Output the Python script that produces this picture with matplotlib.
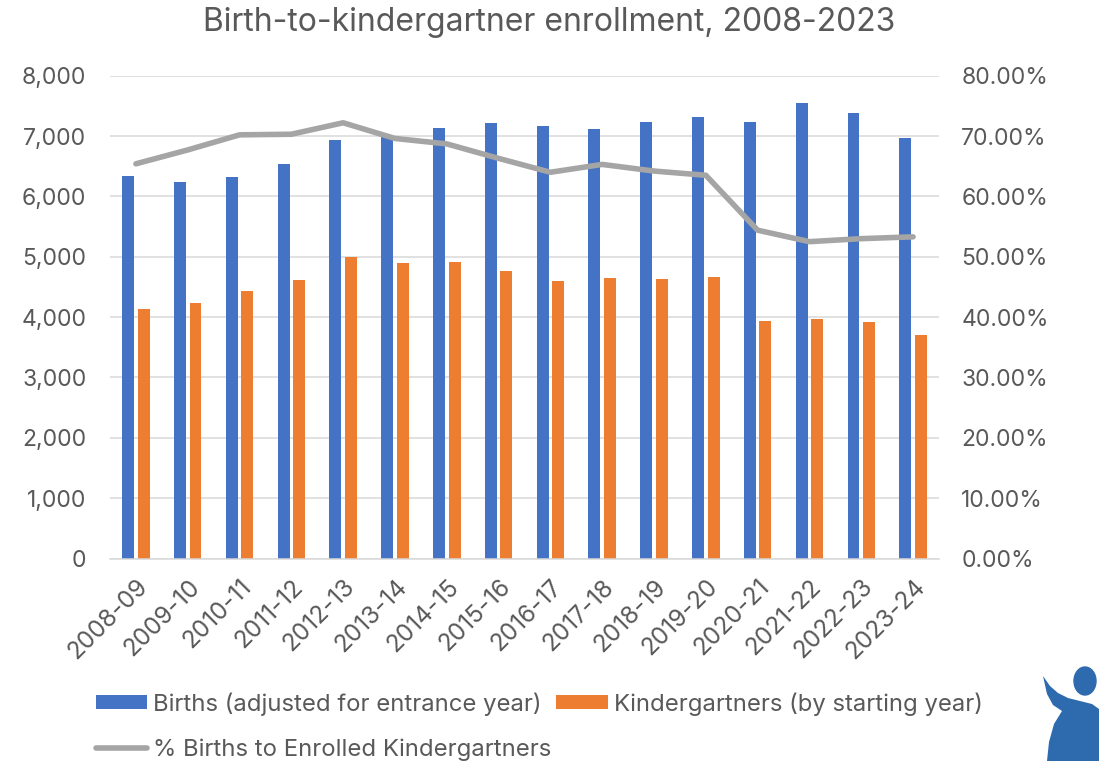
import numpy as np
import matplotlib
matplotlib.use("Agg")
from matplotlib import pyplot as plt
from matplotlib.patches import Ellipse, PathPatch
from matplotlib.path import Path
from matplotlib.ticker import FuncFormatter, MultipleLocator

plt.rcParams["font.family"] = ["Inter", "DejaVu Sans"]

years = [
    "2008-09", "2009-10", "2010-11", "2011-12", "2012-13", "2013-14",
    "2014-15", "2015-16", "2016-17", "2017-18", "2018-19", "2019-20",
    "2020-21", "2021-22", "2022-23", "2023-24",
]
births = [6330, 6240, 6320, 6540, 6930, 7010, 7130, 7210,
          7160, 7120, 7230, 7320, 7240, 7550, 7390, 6960]
kinders = [4140, 4230, 4440, 4610, 5000, 4890, 4910, 4770,
           4590, 4650, 4630, 4660, 3930, 3970, 3920, 3710]
pct = [65.4, 67.7, 70.2, 70.3, 72.2, 69.6, 68.7, 66.3,
       64.0, 65.3, 64.2, 63.5, 54.4, 52.5, 53.0, 53.3]

BLUE = "#4472C4"
ORANGE = "#ED7D31"
GREY = "#A5A5A5"
TXT = "#595959"
GRID = "#D9D9D9"

W, H = 1099, 761
fig = plt.figure(figsize=(W / 100, H / 100), dpi=100)
ax = fig.add_axes([110 / W, 1 - 558.5 / H, (939 - 110) / W, (558.5 - 75.7) / H])
ax2 = ax.twinx()

x = np.arange(len(years))
bw = 0.23
ax.bar(x - 0.15, births, width=bw, color=BLUE, zorder=2,
       label="Births (adjusted for entrance year)")
ax.bar(x + 0.15, kinders, width=bw, color=ORANGE, zorder=2,
       label="Kindergartners (by starting year)")
ax2.plot(x, pct, color=GREY, lw=4, solid_joinstyle="round",
         solid_capstyle="round", label="% Births to Enrolled Kindergartners")

ax.set_xlim(-0.5, len(years) - 0.5)
ax.set_ylim(0, 8000)
ax2.set_ylim(0, 80)
ax.yaxis.set_major_locator(MultipleLocator(1000))
ax2.yaxis.set_major_locator(MultipleLocator(10))
ax.yaxis.set_major_formatter(FuncFormatter(lambda v, p: f"{v:,.0f}"))
ax2.yaxis.set_major_formatter(FuncFormatter(lambda v, p: f"{v:.2f}%"))

ax.grid(axis="y", color=GRID, lw=1.1, zorder=0)
ax.set_axisbelow(True)
for a in (ax, ax2):
    for s in a.spines.values():
        s.set_visible(False)
ax.spines["bottom"].set_visible(True)
ax.spines["bottom"].set_color(GRID)
ax.spines["bottom"].set_linewidth(1.1)

ax.set_xticks(x)
ax.set_xticklabels(years, rotation=45, ha="right", rotation_mode="anchor")
ax.tick_params(axis="x", length=0, pad=12, labelsize=17.5, labelcolor=TXT)
ax.tick_params(axis="y", length=0, pad=17, labelsize=16.5, labelcolor=TXT)
ax2.tick_params(axis="y", length=0, pad=16, labelsize=16.5, labelcolor=TXT)

fig.text(0.5, 1 - 23 / H, "Birth-to-kindergartner enrollment, 2008-2023",
         ha="center", va="center", fontsize=23, color=TXT)

# legend: reorder so the two bar series share the first row
h1, l1 = ax.get_legend_handles_labels()
h2, l2 = ax2.get_legend_handles_labels()
handles = [h1[0], h2[0], h1[1]]
labels = [l1[0], l2[0], l1[1]]
fig.legend(handles, labels, ncols=2, loc="upper left",
           bbox_to_anchor=(96 / W, 1 - 692 / H), frameon=False,
           fontsize=17.2, labelcolor=TXT, handlelength=2.15, handleheight=0.55,
           handletextpad=0.25, columnspacing=0.2, labelspacing=0.95,
           borderaxespad=0, borderpad=0)

# logo figure at bottom right
def px(pts):
    return [(a / W, 1 - b / H) for a, b in pts]

LOGO = "#2E6AAE"
fig.patches.append(Ellipse((1085 / W, 1 - 681 / H), 22 / W, 28 / H,
                           transform=fig.transFigure, color=LOGO))
body = px([(1043, 676), (1050, 686), (1058, 693), (1068, 698), (1080, 701),
           (1092, 704), (1099, 709), (1099, 761), (1047, 761), (1049, 742),
           (1054, 724), (1062, 711), (1053, 705), (1047, 694), (1043, 676)])
fig.patches.append(PathPatch(Path(body), transform=fig.transFigure,
                             color=LOGO, lw=0))

fig.savefig("out.png", dpi=100)
